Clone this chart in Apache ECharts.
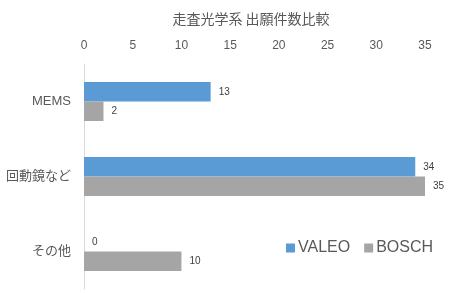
<!DOCTYPE html>
<html><head><meta charset="utf-8">
<script src="https://cdn.jsdelivr.net/npm/echarts@6/dist/echarts.min.js"></script>
<style>html,body{margin:0;padding:0;background:#fff}#c{width:459px;height:293px}</style>
</head><body><div id="c"></div>
<script>
var categories = ['MEMS', '回動鏡など', 'その他'];
var valeo = [13, 34, 0];
var bosch = [2, 35, 10];
var xTicks = [0, 35, 5];

var font = '"Liberation Sans", "Noto Sans CJK JP", sans-serif';
var chart = echarts.init(document.getElementById('c'));
chart.setOption({
  animation: false,
  title: {
    text: '走査光学系 出願件数比較',
    left: 246, top: 7, textAlign: 'center',
    textStyle: {fontFamily: '"Noto Sans CJK JP", sans-serif', fontSize: 14, fontWeight: 'normal', color: '#595959'}
  },
  legend: {
    data: ['VALEO', 'BOSCH'],
    left: 281, top: 235,
    itemWidth: 9, itemHeight: 9, itemGap: 14,
    icon: 'rect',
    textStyle: {fontFamily: font, fontSize: 16, color: '#595959', padding: [0,0,0,-2]}
  },
  grid: {left: 84, top: 64, width: 341, height: 225, containLabel: false},
  xAxis: {
    type: 'value', position: 'top', min: xTicks[0], max: xTicks[1], interval: xTicks[2],
    axisLine: {show: false}, axisTick: {show: false}, splitLine: {show: false},
    axisLabel: {fontFamily: font, fontSize: 12, color: '#595959', margin: 12}
  },
  yAxis: {
    type: 'category', data: categories, inverse: true,
    axisLine: {show: true, lineStyle: {color: '#d9d9d9'}}, axisTick: {show: false},
    axisLabel: {fontFamily: font, fontSize: 13, color: '#595959', margin: 13}
  },
  series: [
    {name: 'VALEO', type: 'bar', data: valeo, barGap: '0%', barCategoryGap: '48%',
     itemStyle: {color: '#5b9bd5'},
     label: {show: true, position: 'right', distance: 8, fontFamily: font, fontSize: 10, color: '#404040'}},
    {name: 'BOSCH', type: 'bar', data: bosch, barGap: '0%', barCategoryGap: '48%',
     itemStyle: {color: '#a5a5a5'},
     label: {show: true, position: 'right', distance: 8, fontFamily: font, fontSize: 10, color: '#404040'}}
  ]
});
</script></body></html>
